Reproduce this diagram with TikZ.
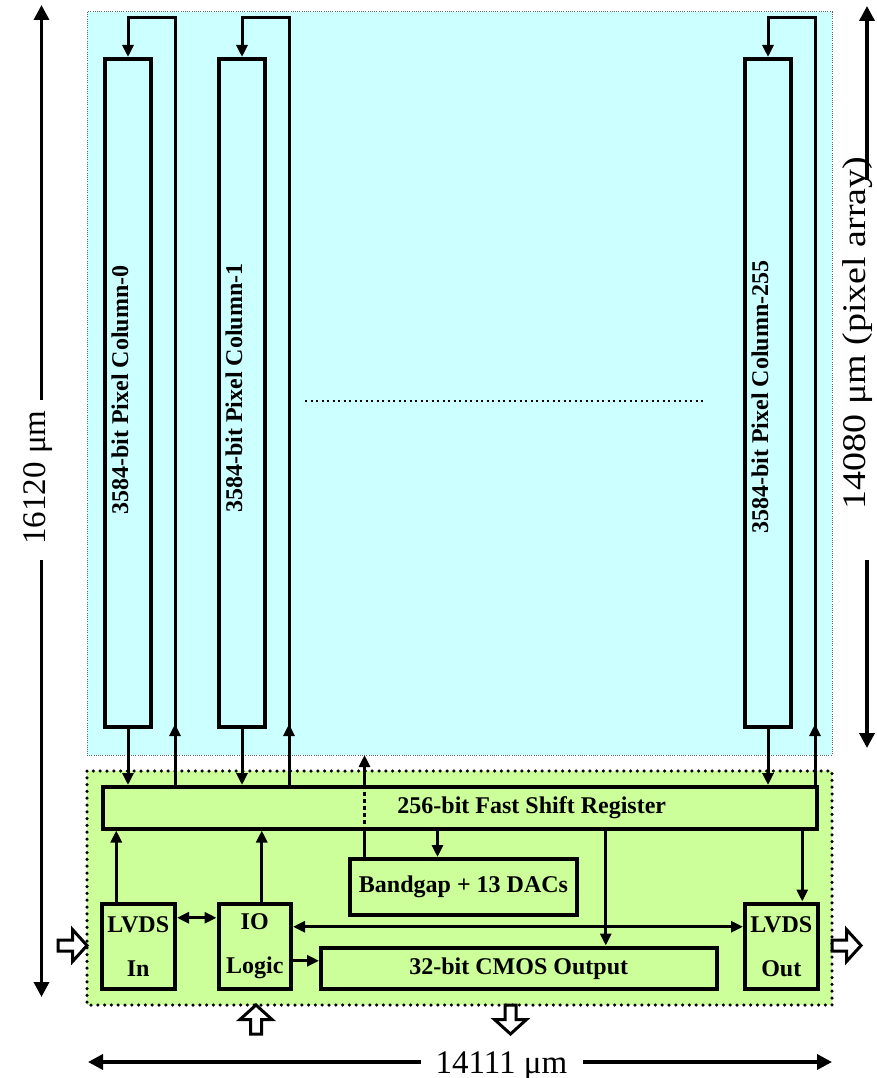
\documentclass[tikz,border=0pt]{standalone}
\usepackage{fontspec}
\setmainfont{Liberation Serif}
\usetikzlibrary{arrows.meta,positioning}
\definecolor{ArrayCyan}{RGB}{204,255,255}
\definecolor{PeriGreen}{RGB}{204,255,153}
\definecolor{EdgeGray}{RGB}{90,110,110}

\tikzset{
  wire/.style={line width=3pt},
  blk/.style={draw,line width=4pt,fill=PeriGreen,inner sep=0pt,font=\fontsize{24}{44}\selectfont\bfseries,align=center},
  colbox/.style={draw,line width=4pt,fill=ArrayCyan,minimum width=46pt,minimum height=668pt,inner sep=0pt},
  lbl/.style={font=\fontsize{24}{44}\selectfont\bfseries},
  dimtxt/.style={font=\fontsize{33}{36}\selectfont,inner sep=0pt},
  dimln/.style={line width=3.5pt,-{Triangle[length=15pt,width=15pt]}},
  hollow/.style={line width=3pt,fill=white,line join=miter},
}

\begin{document}
\begin{tikzpicture}[x=1pt,y=-1pt,>={Triangle[length=12pt,width=11pt]}]
\useasboundingbox (0,0) rectangle (877,1078);
% pixel array and periphery areas
\node[fill=ArrayCyan,draw=EdgeGray,line width=1pt,dash pattern=on 1pt off 1.2pt,minimum width=745pt,minimum height=743pt,inner sep=0pt] (arr) at (459.5,383.5) {};
\fill[PeriGreen] (87,771) rectangle (832,1005);
\draw[line width=3.5pt,line cap=round,dash pattern=on 0pt off 6.8pt] (87,771) rectangle (832,1005);

% shift register
\node[blk,minimum width=714.5pt,minimum height=41.5pt,label={[lbl,xshift=72pt]center:256-bit Fast Shift Register}] (reg) at (459.75,807.75) {};

% pixel columns
\foreach \n/\xc/\ty/\num in {c0/128/390/0,c1/242/388/1,c255/768/397/255}{
  \node[colbox] (\n) at (\xc,393) {};
  \node[lbl,rotate=90,anchor=base] at (\xc,\ty) {3584-bit Pixel Column-\num};
  \draw[wire,->] (\n.south) -- (\n.south |- reg.north);
  \draw[wire,->] ([xshift=47pt]\n.south |- reg.north) -- ++(0,-61);
  \draw[wire,->] ([xshift=47pt]\n.south |- reg.north) -- ++(0,-767) -| (\n.north);
}
\draw[line width=2pt,dash pattern=on 2pt off 3.5pt] (305,401) -- (703,401);

% periphery blocks
\node[blk,minimum width=227pt,minimum height=56pt] (bg) at (463.5,887) {Bandgap + 13 DACs};
\node[blk,minimum width=73.5pt,minimum height=85.5pt] (lin) at (138.25,946.25) {LVDS\\In};
\node[blk,minimum width=72.5pt,minimum height=85.5pt] (io) at (254.75,946.25) {IO\\Logic};
\node[blk,minimum width=72.5pt,minimum height=85.5pt] (lout) at (781.25,946.25) {LVDS\\Out};
\node[blk,minimum width=395.5pt,minimum height=41.5pt] (cmos) at (518.75,968.25) {32-bit CMOS Output};

% connections
\draw[wire] ([xshift=-99pt]bg.north) -- ([xshift=-99pt]bg.north |- reg.south);
\draw[wire,dash pattern=on 4pt off 3pt] ([xshift=-99pt]bg.north |- reg.south) -- ([xshift=-99pt]bg.north |- reg.north);
\draw[wire,->] ([xshift=-99pt]bg.north |- reg.north) -- ++(0,-30);
\draw[wire,->] ([xshift=-26pt]bg.north |- reg.south) -- ([xshift=-26pt]bg.north);
\draw[wire,->] ([xshift=-22pt]lin.north) -- ([xshift=-22pt]lin.north |- reg.south);
\draw[wire,->] ([xshift=7pt]io.north) -- ([xshift=7pt]io.north |- reg.south);
\draw[wire,->] ([xshift=87pt]cmos.north |- reg.south) -- ([xshift=87pt]cmos.north);
\draw[wire,->] ([xshift=21pt]lout.north |- reg.south) -- ([xshift=21pt]lout.north);
\draw[wire,<->] ([yshift=28.5pt]lin.east) -- ([yshift=28.5pt]lin.east -| io.west);
\draw[wire,<->] ([yshift=19.5pt]io.east) -- ([yshift=19.5pt]io.east -| lout.west);
\draw[wire,->] ([yshift=-14.5pt]io.east) -- ([yshift=-14.5pt]io.east -| cmos.west);

% pads
\foreach \px/\py/\ang in {58/945.5/0,832/945.5/0,256/1034/90,510.5/1005/-90}{
  \draw[hollow,shift={(\px,\py)},rotate=\ang] (0,-5.5) -- (14.5,-5.5) -- (14.5,-16) -- (29,0) -- (14.5,16) -- (14.5,5.5) -- (0,5.5) -- cycle;
}

% dimensions
\coordinate (lt) at (41.5,5);
\coordinate (la) at (41.5,400);
\coordinate (lc) at (41.5,560);
\coordinate (lb) at (41.5,997);
\node[dimtxt,rotate=90,anchor=base] (dl) at (45,477.5) {16120 μm};
\draw[dimln] (la) -- (lt);
\draw[dimln] (lc) -- (lb);
\coordinate (rt) at (867,6);
\coordinate (ra) at (867,180);
\coordinate (rc) at (867,560);
\coordinate (rb) at (867,748);
\node[dimtxt,rotate=90,xscale=1.15,anchor=base] (dr) at (865,333) {14080 μm (pixel array)};
\draw[dimln] (ra) -- (rt);
\draw[dimln] (rc) -- (rb);
\coordinate (bl) at (88,1062);
\coordinate (ba) at (421,1062);
\coordinate (bc) at (583,1062);
\coordinate (br) at (832,1062);
\node[dimtxt,anchor=base] (db) at (501.5,1073) {14111 μm};
\draw[dimln] (ba) -- (bl);
\draw[dimln] (bc) -- (br);
\end{tikzpicture}
\end{document}
